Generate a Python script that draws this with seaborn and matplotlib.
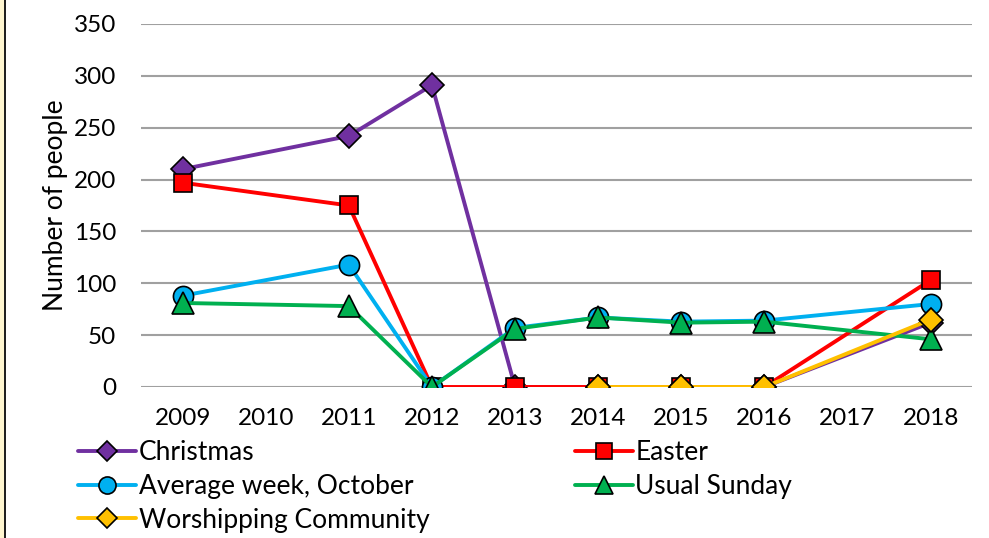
import numpy as np
import pandas as pd
import matplotlib
import matplotlib.pyplot as plt
import seaborn as sns
from matplotlib.patches import Rectangle

matplotlib.use('Agg')

years = ['2009', '2010', '2011', '2012', '2013', '2014', '2015', '2016', '2017', '2018']
christmas = [210, np.nan, 242, 291, 0, 0, 0, 0, np.nan, 62]
easter = [197, np.nan, 175, 0, 0, 0, 0, 0, np.nan, 103]
average_week = [88, np.nan, 118, 0, 57, 67, 63, 64, np.nan, 80]
usual_sunday = [81, np.nan, 78, 0, 56, 67, 62, 63, np.nan, 46]
worshipping = [np.nan, np.nan, np.nan, np.nan, np.nan, 0, 0, 0, np.nan, 65]

series = [
    ('Christmas', christmas, '#7030A0', 'D', 12.5),
    ('Easter', easter, '#FF0000', 's', 13),
    ('Average week, October', average_week, '#00B0F0', 'o', 14.5),
    ('Usual Sunday', usual_sunday, '#00B050', '^', 16),
    ('Worshipping Community', worshipping, '#FFC000', 'D', 12.5),
]

sns.set_style('white')
plt.rcParams['font.family'] = ['Lato', 'DejaVu Sans']
plt.rcParams['text.color'] = 'black'
plt.rcParams['xtick.color'] = 'black'
plt.rcParams['ytick.color'] = 'black'
plt.rcParams['axes.labelcolor'] = 'black'

fig = plt.figure(figsize=(9.89, 5.38), dpi=100)
ax = fig.add_axes([0.1426, 0.2807, 0.8404, 0.6747])

handles = {}
for name, vals, color, marker, ms in series:
    df = pd.DataFrame({'x': np.arange(len(years)), 'y': vals}).dropna()
    sns.lineplot(data=df, x='x', y='y', ax=ax, color=color, linewidth=2.8,
                 marker=marker, markersize=ms, markeredgecolor='black',
                 markeredgewidth=1.2, label=name, legend=False)
    handles[name] = ax.lines[-1]

ax.set_xlim(-0.5, len(years) - 0.5)
ax.set_ylim(0, 350)
ax.set_xticks(np.arange(len(years)))
ax.set_xticklabels(years)
ax.set_yticks(range(0, 351, 50))
ax.tick_params(axis='both', labelsize=17.5, length=0)
ax.tick_params(axis='y', pad=18)
ax.tick_params(axis='x', pad=15)
ax.set_xlabel('')
ax.set_ylabel('Number of people', fontsize=19, labelpad=4)
ax.yaxis.grid(True, color='#A0A0A0', linewidth=1.5)
ax.set_axisbelow(True)
for s in ax.spines.values():
    s.set_visible(False)

order = ['Christmas', 'Average week, October', 'Worshipping Community',
         'Easter', 'Usual Sunday']
leg = fig.legend([handles[n] for n in order], order, ncol=2, loc='upper left',
                 bbox_to_anchor=(0.079, 0.182), frameon=False, fontsize=19,
                 handlelength=2.2, handletextpad=0.1, labelspacing=0.33,
                 columnspacing=5.5, borderpad=0, borderaxespad=0,
                 markerscale=0.85)

# left frame strip
fig.patches.append(Rectangle((0, 0), 0.0045, 1, transform=fig.transFigure,
                             facecolor='#FFF6D0', edgecolor='none'))
fig.patches.append(Rectangle((0.0045, 0), 0.002, 1, transform=fig.transFigure,
                             facecolor='#202020', edgecolor='none'))

fig.savefig('out.png', dpi=100)
